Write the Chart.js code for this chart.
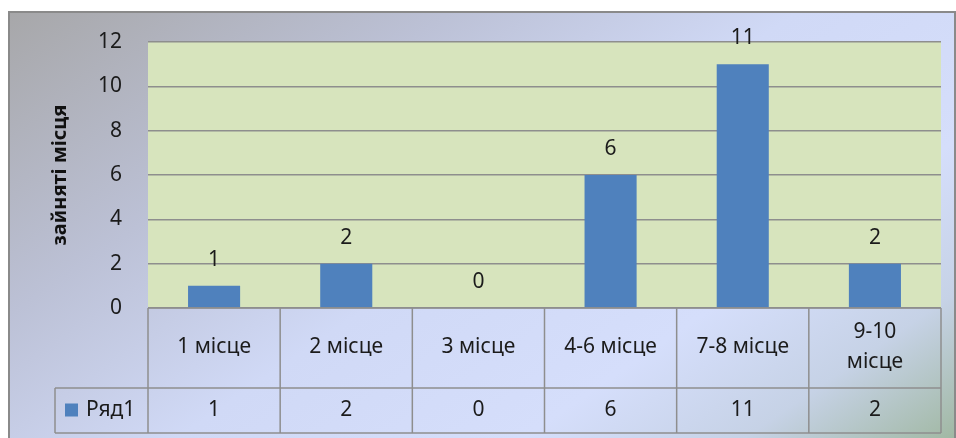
<!DOCTYPE html>
<html>
<head>
<meta charset="utf-8">
<script src="https://cdn.jsdelivr.net/npm/chart.js@4/dist/chart.umd.min.js"></script>
<style>
  html, body { margin: 0; padding: 0; background: #ffffff; }
  canvas { display: block; }
</style>
</head>
<body>
<canvas id="c" width="956" height="438"></canvas>
<script>
// ---- data ----
const categories = ['1 місце', '2 місце', '3 місце', '4-6 місце', '7-8 місце', '9-10\nмісце'];
const values = [1, 2, 0, 6, 11, 2];
const seriesName = 'Ряд1';
const yAxisTitle = 'зайняті місця';
const yMin = 0, yMax = 12, yStep = 2;

const FONT = '"Noto Sans", "DejaVu Sans", sans-serif';
const TEXT = '#1b1b1b';
const LINE = '#8e8e8e';
const BAR = '#4F81BD';

const frameBg = {
  id: 'frameBg',
  beforeDraw(chart) {
    const ctx = chart.ctx;
    const W = chart.width, H = chart.height;
    ctx.save();
    ctx.fillStyle = '#ffffff';
    ctx.fillRect(0, 0, W, H);
    const x0 = 9, y0 = 12, x1 = 955, y1 = 445;
    const fw = x1 - x0, fh = y1 - y0;
    const a = 0.6 / fw, b = 0.4 / fh;
    const k = 1 / (a * a + b * b);
    const g = ctx.createLinearGradient(x0, y0, x0 + k * a, y0 + k * b);
    g.addColorStop(0, '#a7a7a9');
    g.addColorStop(0.28, '#bcc1d6');
    g.addColorStop(0.5, '#d0d9f6');
    g.addColorStop(0.72, '#d5defb');
    g.addColorStop(0.86, '#c6d2e6');
    g.addColorStop(1, '#9fb7a0');
    ctx.fillStyle = g;
    ctx.fillRect(x0, y0, fw, fh);
    ctx.strokeStyle = '#8a8a8a';
    ctx.lineWidth = 2;
    ctx.strokeRect(x0, y0, fw, fh);
    const ca = chart.chartArea;
    ctx.fillStyle = '#D7E4BD';
    ctx.fillRect(ca.left, ca.top, ca.right - ca.left, ca.bottom - ca.top);
    ctx.restore();
  }
};

const tableAndLabels = {
  id: 'tableAndLabels',
  afterDraw(chart) {
    const ctx = chart.ctx;
    const xs = chart.scales.x, ys = chart.scales.y;
    const ca = chart.chartArea;
    const n = categories.length;
    const half = (xs.getPixelForValue(1) - xs.getPixelForValue(0)) / 2;
    const row1Top = ca.bottom, row1Bot = ca.bottom + 80, row2Bot = ca.bottom + 125;
    const legendLeft = 55;
    ctx.save();
    // data labels
    ctx.font = '21px ' + FONT;
    ctx.fillStyle = TEXT;
    ctx.textAlign = 'center';
    ctx.textBaseline = 'middle';
    values.forEach((v, i) => {
      ctx.fillText(String(v), xs.getPixelForValue(i), ys.getPixelForValue(v) - 26);
    });
    // table lines
    ctx.strokeStyle = LINE;
    ctx.lineWidth = 1.5;
    ctx.beginPath();
    ctx.moveTo(ca.left, row1Top); ctx.lineTo(ca.right, row1Top);
    ctx.moveTo(legendLeft, row1Bot); ctx.lineTo(ca.right, row1Bot);
    ctx.moveTo(legendLeft, row2Bot); ctx.lineTo(ca.right, row2Bot);
    ctx.moveTo(legendLeft, row1Bot); ctx.lineTo(legendLeft, row2Bot);
    for (let i = 0; i <= n; i++) {
      const x = i < n ? xs.getPixelForValue(i) - half : xs.getPixelForValue(n - 1) + half;
      ctx.moveTo(x, row1Top); ctx.lineTo(x, row2Bot);
    }
    ctx.stroke();
    // category row
    ctx.fillStyle = TEXT;
    ctx.font = '21px ' + FONT;
    categories.forEach((c, i) => {
      const lines = c.split('\n');
      const cx = xs.getPixelForValue(i);
      const cy = (row1Top + row1Bot) / 2 - 1;
      const lh = 30;
      lines.forEach((ln, j) => {
        ctx.fillText(ln, cx, cy + (j - (lines.length - 1) / 2) * lh);
      });
    });
    // values row
    const vy = (row1Bot + row2Bot) / 2;
    values.forEach((v, i) => {
      ctx.fillText(String(v), xs.getPixelForValue(i), vy);
    });
    // legend cell
    ctx.fillStyle = BAR;
    ctx.fillRect(65, vy - 7, 13, 13);
    ctx.fillStyle = TEXT;
    ctx.textAlign = 'left';
    ctx.fillText(seriesName, 86, vy);
    ctx.restore();
  }
};

new Chart(document.getElementById('c'), {
  type: 'bar',
  data: {
    labels: categories,
    datasets: [{
      label: seriesName,
      data: values,
      backgroundColor: BAR,
      borderWidth: 0,
      categoryPercentage: 1,
      barPercentage: 0.394
    }]
  },
  options: {
    responsive: false,
    animation: false,
    devicePixelRatio: 1,
    layout: { padding: { left: 0, top: 42, right: 15, bottom: 130 } },
    plugins: { legend: { display: false }, tooltip: { enabled: false } },
    scales: {
      x: { type: 'category', display: false, offset: true },
      y: {
        min: yMin, max: yMax,
        ticks: { stepSize: yStep, padding: 26, color: TEXT, font: { family: FONT, size: 21 } },
        grid: { color: LINE, lineWidth: 1.5, drawTicks: false },
        border: { display: false },
        title: {
          display: true, text: yAxisTitle, color: '#111',
          font: { family: FONT, size: 20, weight: 'bold' },
          padding: { top: 48, bottom: 0 }
        },
        afterFit(scale) { scale.width = 148; }
      }
    }
  },
  plugins: [frameBg, tableAndLabels]
});
</script>
</body>
</html>
